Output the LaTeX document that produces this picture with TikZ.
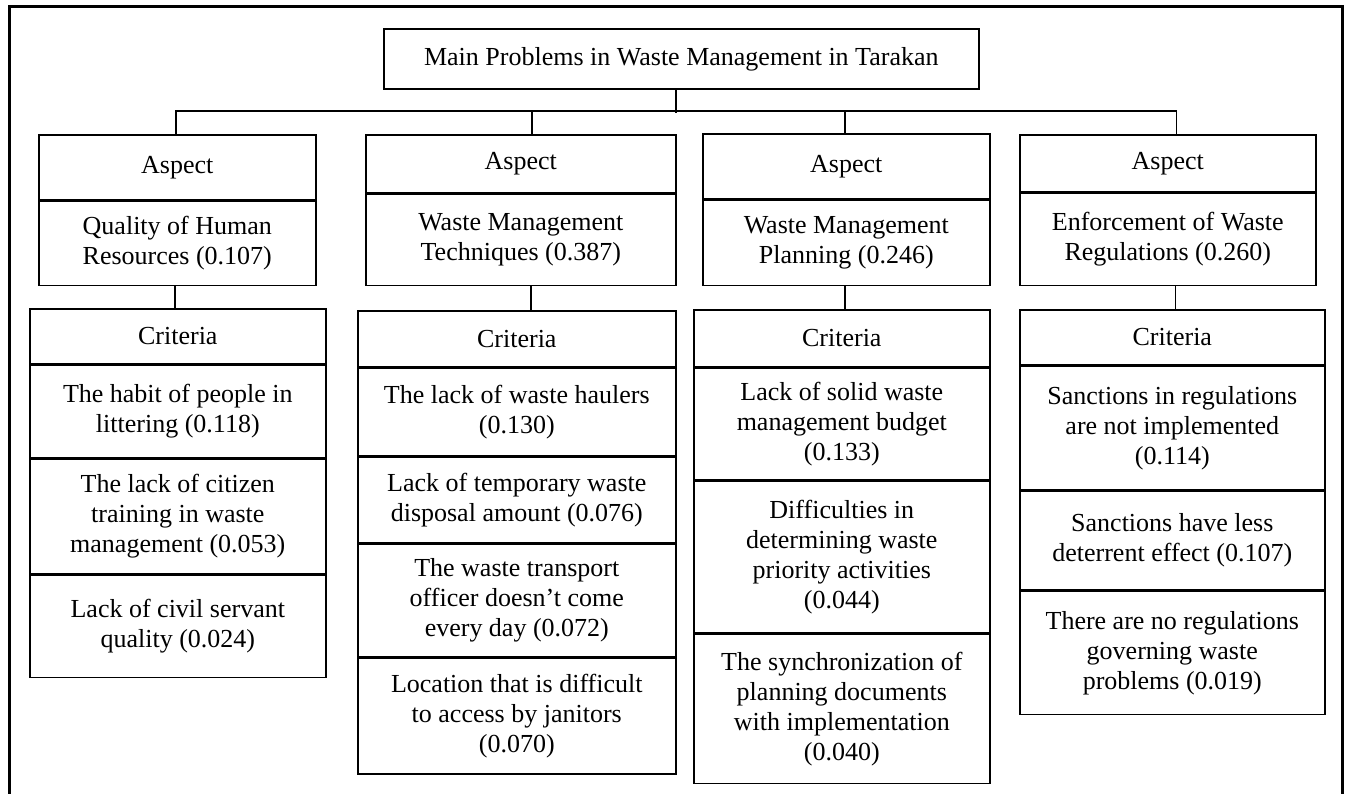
\documentclass[tikz,border=0pt]{standalone}
\usepackage{fontspec}
\setmainfont{Liberation Serif}
\begin{document}
\begin{tikzpicture}[x=1pt,y=-1pt,line width=1.6pt,
    box/.style={draw,anchor=north west,align=center,inner sep=2pt,font=\fontsize{26}{30}\selectfont}]
    \useasboundingbox (0,0) rectangle (1345,794);
    \draw[line width=3pt] (9,794) -- (9,7) -- (1342,7) -- (1342,794);
    \node[box,minimum width=595,minimum height=60] (t) at (383,28) {Main Problems in Waste Management in Tarakan};
    % aspects
    \node[box,minimum width=277,minimum height=65] (a1) at (38,134) {Aspect};
    \node[box,minimum width=277,minimum height=84] (a1v) at (a1.south west) {Quality of Human\\Resources (0.107)};
    \node[box,minimum width=310,minimum height=58] (a2) at (365,134) {Aspect};
    \node[box,minimum width=310,minimum height=91] (a2v) at (a2.south west) {Waste Management\\Techniques (0.387)};
    \node[box,minimum width=287,minimum height=65] (a3) at (702,133) {Aspect};
    \node[box,minimum width=287,minimum height=85] (a3v) at (a3.south west) {Waste Management\\Planning (0.246)};
    \node[box,minimum width=296,minimum height=57] (a4) at (1019,134) {Aspect};
    \node[box,minimum width=296,minimum height=92] (a4v) at (a4.south west) {Enforcement of Waste\\Regulations (0.260)};
    % criteria
    \node[box,minimum width=296,minimum height=55] (c1) at (29,308) {Criteria};
    \node[box,minimum width=296,minimum height=92] (c11) at (c1.south west) {The habit of people in\\littering (0.118)};
    \node[box,minimum width=296,minimum height=115] (c12) at (c11.south west) {The lack of citizen\\training in waste\\management (0.053)};
    \node[box,minimum width=296,minimum height=102] (c13) at (c12.south west) {Lack of civil servant\\quality (0.024)};
    \node[box,minimum width=318,minimum height=56] (c2) at (357,310) {Criteria};
    \node[box,minimum width=318,minimum height=87] (c21) at (c2.south west) {The lack of waste haulers\\(0.130)};
    \node[box,minimum width=318,minimum height=86] (c22) at (c21.south west) {Lack of temporary waste\\disposal amount (0.076)};
    \node[box,minimum width=318,minimum height=112] (c23) at (c22.south west) {The waste transport\\officer doesn't come\\every day (0.072)};
    \node[box,minimum width=318,minimum height=116] (c24) at (c23.south west) {Location that is difficult\\to access by janitors\\(0.070)};
    \node[box,minimum width=296,minimum height=57] (c3) at (693,309) {Criteria};
    \node[box,minimum width=296,minimum height=111] (c31) at (c3.south west) {Lack of solid waste\\management budget\\(0.133)};
    \node[box,minimum width=296,minimum height=152] (c32) at (c31.south west) {Difficulties in\\determining waste\\priority activities\\(0.044)};
    \node[box,minimum width=296,minimum height=149] (c33) at (c32.south west) {The synchronization of\\planning documents\\with implementation\\(0.040)};
    \node[box,minimum width=305,minimum height=55] (c4) at (1019,309) {Criteria};
    \node[box,minimum width=305,minimum height=123] (c41) at (c4.south west) {Sanctions in regulations\\are not implemented\\(0.114)};
    \node[box,minimum width=305,minimum height=99] (c42) at (c41.south west) {Sanctions have less\\deterrent effect (0.107)};
    \node[box,minimum width=305,minimum height=123] (c43) at (c42.south west) {There are no regulations\\governing waste\\problems (0.019)};
    % links
    \draw ([xshift=-5.5]t.south) -- ++(0,23);
    \draw ([xshift=-1.5]a1.north) -- ++(0,-23) -| ([xshift=8.5]a4.north);
    \draw ([xshift=11]a2.north) -- ++(0,-23);
    \draw ([xshift=-1.5]a3.north) -- ++(0,-22);
    \draw ([xshift=-2.5]a1v.south) -- ([xshift=-2.5]a1v.south |- c1.north);
    \draw ([xshift=10]a2v.south) -- ([xshift=10]a2v.south |- c2.north);
    \draw ([xshift=-1.5]a3v.south) -- ([xshift=-1.5]a3v.south |- c3.north);
    \draw ([xshift=7.5]a4v.south) -- ([xshift=7.5]a4v.south |- c4.north);
\end{tikzpicture}
\end{document}
